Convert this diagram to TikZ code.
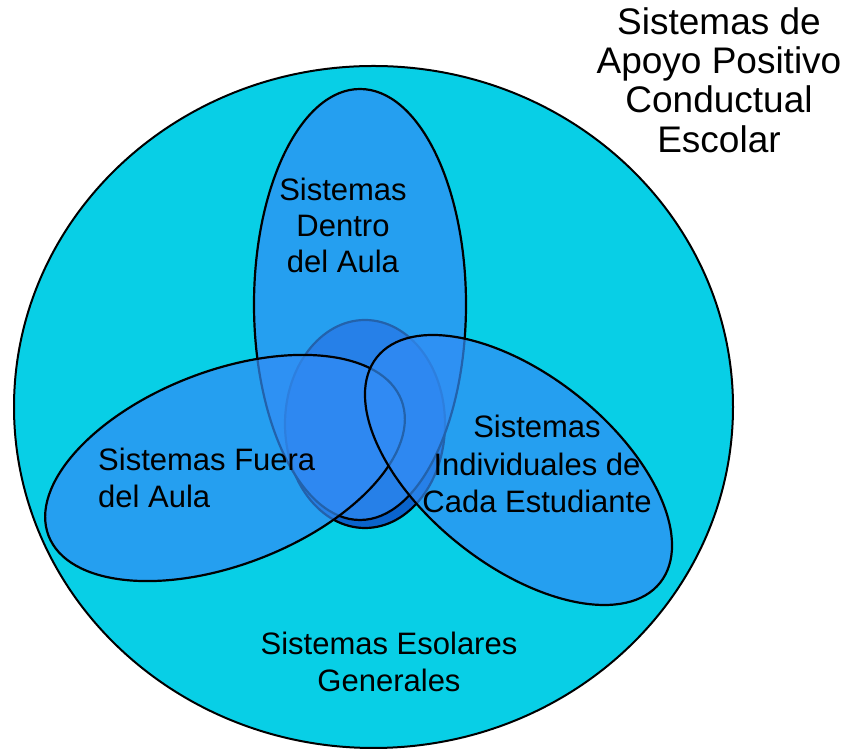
\documentclass[tikz,border=0pt]{standalone}
\usepackage{fontspec}
\setmainfont{Liberation Sans}
\definecolor{bgcyan}{RGB}{8,207,230}
\definecolor{setblue}{RGB}{50,140,245}
\definecolor{coreblue}{RGB}{10,100,204}
\begin{document}
\begin{tikzpicture}[x=1pt,y=1pt,
  outline/.style={draw=black,line width=2.2pt},
  setfill/.style={outline,fill=setblue,fill opacity=0.7},
  lbl/.style={anchor=base,inner sep=0pt,font=\fontsize{31}{36}\selectfont},
  lbll/.style={lbl,anchor=base west},
  ttl/.style={anchor=base,inner sep=0pt,font=\fontsize{37}{40}\selectfont}]
\useasboundingbox (0,0) rectangle (849,751);
% general school systems
\draw[outline,fill=bgcyan,line width=2pt] (373.5,344) ellipse [x radius=359.5,y radius=341];
% core
\draw[outline,fill=coreblue] (365,327) ellipse [x radius=80,y radius=104];
% classroom
\draw[setfill] (360,446.5) ellipse [x radius=106,y radius=215.5];
% non-classroom
\draw[setfill,rotate around={21:(225,283)}] (225,283) ellipse [x radius=189,y radius=97];
% individual
\draw[setfill,rotate around={-38.5:(518.5,281)}] (518.5,281) ellipse [x radius=181,y radius=95];
% labels
\node[ttl] (t1) at (719,716) {Sistemas de};
\node[ttl] (t2) at (719,677) {Apoyo Positivo};
\node[ttl] (t3) at (719,638) {Conductual};
\node[ttl] (t4) at (719,598) {Escolar};
\node[lbl] (d1) at (343,550.3) {Sistemas};
\node[lbl] (d2) at (343,514.3) {Dentro};
\node[lbl] (d3) at (343,478.3) {del Aula};
\node[lbll] (f1) at (98,280.3) {Sistemas Fuera};
\node[lbll] (f2) at (98,243) {del Aula};
\node[lbl] (i1) at (537,313) {Sistemas};
\node[lbl] (i2) at (537,275) {Individuales de};
\node[lbl] (i3) at (537,238) {Cada Estudiante};
\node[lbl] (g1) at (389,96) {Sistemas Esolares};
\node[lbl] (g2) at (389,59) {Generales};
\end{tikzpicture}
\end{document}
